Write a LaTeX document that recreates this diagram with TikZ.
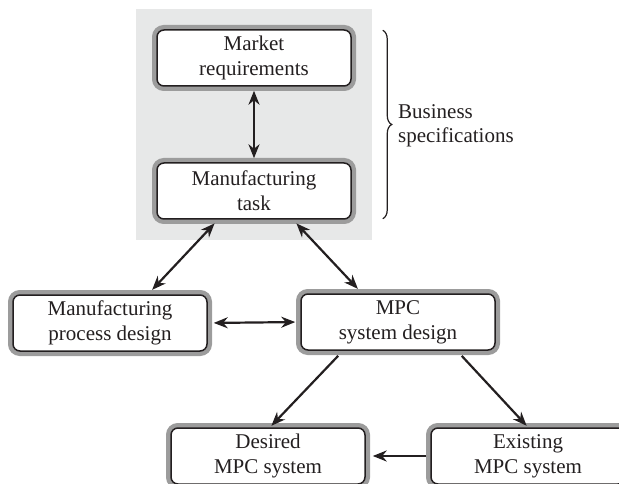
\documentclass[tikz,border=0pt]{standalone}
\usepackage{fontspec}
\setmainfont{Liberation Serif}
\usetikzlibrary{arrows.meta,positioning,fit,backgrounds,decorations.pathreplacing}
\definecolor{ringgray}{HTML}{9C9C9C}
\definecolor{bggray}{HTML}{E7E8E8}
\definecolor{inkblack}{HTML}{231F20}

\begin{document}
\begin{tikzpicture}[
        x=1pt, y=-1pt,
        % box with grey ring and thin black line inside
        box/.style={rectangle, rounded corners=7pt, draw=inkblack, line width=1.5pt, fill=white,
            preaction={draw=ringgray, line width=10pt},
            minimum width=194pt, minimum height=56pt, align=center,
            font=\fontsize{21}{25}\selectfont, text=inkblack},
        bgbox/.style={rectangle, fill=bggray, draw=none, inner sep=20pt},
        % arrows
        flowarrow/.style={-{Stealth[length=14pt, width=11pt]}, line width=2.2pt, draw=inkblack},
        twoway/.style={{Stealth[length=14pt, width=11pt]}-{Stealth[length=14pt, width=11pt]}, line width=2.2pt, draw=inkblack},
        bracedeco/.style={decorate, decoration={brace, amplitude=9pt}, line width=1.2pt, draw=inkblack},
        lbl/.style={align=left, inner sep=3pt, font=\fontsize{21}{24}\selectfont, text=inkblack}
    ]
    \useasboundingbox (0,0) rectangle (619,484);

    % Business part
    \node[box] (market) at (254,58) {Market\\requirements};
    \node[box] (task) at (254,191) {Manufacturing\\task};

    % grey background behind business part
    \begin{scope}[on background layer]
        \node[bgbox, fit=(market) (task)] (bizgroup) {};
    \end{scope}

    % Design level
    \node[box] (process) at (110,323) {Manufacturing\\process design};
    \node[box] (mpcdesign) at (398,322) {MPC\\system design};

    % Systems
    \node[box] (desired) at (268,456) {Desired\\MPC system};
    \node[box] (existing) at (528,456) {Existing\\MPC system};

    % Brace and its label
    \draw[bracedeco] ([xshift=31pt, yshift=-1pt]market.north east) -- ([xshift=31pt, yshift=1pt]task.south east);
    \node[lbl, anchor=west] (bizspec) at (395,126) {Business\\specifications};

    % Links
    \draw[twoway, shorten <=4pt, shorten >=4pt] (market.south) -- (task.north);
    \draw[twoway, shorten <=5pt, shorten >=6pt] ([xshift=-36pt]task.south) -- ([xshift=38pt]process.north);
    \draw[twoway, shorten <=5pt, shorten >=6pt] ([xshift=39pt]task.south) -- ([xshift=-36pt]mpcdesign.north);
    \draw[twoway, shorten <=6pt, shorten >=5pt] (process.east) -- (mpcdesign.west);
    \draw[flowarrow, shorten <=7pt, shorten >=2pt] ([xshift=-55pt]mpcdesign.south) -- ([xshift=2pt]desired.north);
    \draw[flowarrow, shorten <=7pt, shorten >=2pt] ([xshift=59pt]mpcdesign.south) -- (existing.north);
    \draw[flowarrow, shorten <=4pt, shorten >=7pt] (existing.west) -- (desired.east);

\end{tikzpicture}
\end{document}
